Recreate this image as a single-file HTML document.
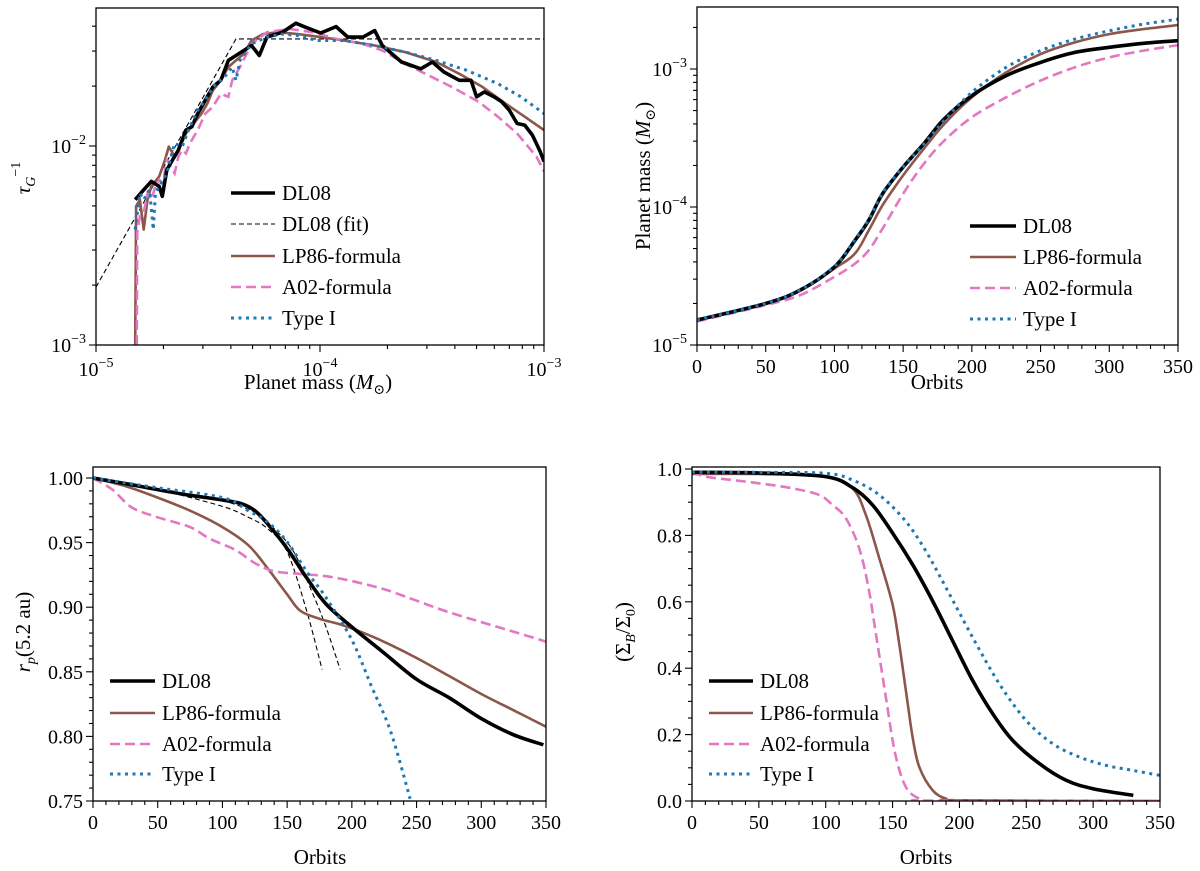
<!DOCTYPE html>
<html><head><meta charset="utf-8">
<style>
body{margin:0;background:#fff;}
svg{display:block;}
text{font-family:"Liberation Serif","DejaVu Serif",serif;}
</style></head>
<body>
<svg id="fig" width="1200" height="871" viewBox="0 0 1200 871" font-family="Liberation Serif, serif"></svg>
<script>
// ---------- Panel 1 data (log10 values) ----------
const p1DlLogM=[-4.825,-4.787,-4.753,-4.718,-4.704,-4.684,-4.658,-4.632,-4.598,-4.572,-4.546,-4.512,-4.478,-4.443,-4.409,-4.375,-4.340,-4.306,-4.271,-4.237,-4.168,-4.108,-4.065,-3.997,-3.928,-3.876,-3.808,-3.756,-3.722,-3.636,-3.550,-3.498,-3.447,-3.378,-3.326,-3.301,-3.266,-3.223,-3.189,-3.155,-3.120,-3.086,-3.052,-3.017,-3.000];
const p1DlLogT=[-2.270,-2.220,-2.178,-2.203,-2.253,-2.120,-2.070,-2.020,-1.920,-1.903,-1.837,-1.770,-1.703,-1.670,-1.570,-1.545,-1.520,-1.495,-1.545,-1.453,-1.428,-1.383,-1.403,-1.432,-1.400,-1.453,-1.453,-1.420,-1.495,-1.578,-1.612,-1.578,-1.628,-1.670,-1.670,-1.753,-1.728,-1.753,-1.778,-1.820,-1.887,-1.895,-1.945,-2.028,-2.078];
const p1FitLogM=[-5.0,-4.375,-3.0];
const p1FitLogT=[-2.709,-1.462,-1.462];
const p1LpLogM=[-4.825,-4.821,-4.804,-4.787,-4.770,-4.753,-4.718,-4.692,-4.675,-4.649,-4.632,-4.598,-4.564,-4.529,-4.503,-4.478,-4.443,-4.409,-4.375,-4.340,-4.306,-4.254,-4.186,-4.100,-3.997,-3.893,-3.756,-3.619,-3.481,-3.378,-3.275,-3.172,-3.086,-3.000];
const p1LpLogT=[-3.000,-2.303,-2.270,-2.420,-2.270,-2.203,-2.153,-2.070,-2.003,-2.053,-2.020,-1.937,-1.887,-1.837,-1.787,-1.720,-1.670,-1.603,-1.570,-1.537,-1.470,-1.437,-1.428,-1.437,-1.453,-1.470,-1.495,-1.528,-1.578,-1.637,-1.703,-1.787,-1.853,-1.920];
const p1AoLogM=[-4.818,-4.816,-4.804,-4.787,-4.770,-4.753,-4.735,-4.718,-4.701,-4.684,-4.667,-4.649,-4.632,-4.615,-4.598,-4.581,-4.546,-4.512,-4.478,-4.443,-4.409,-4.392,-4.357,-4.306,-4.237,-4.134,-4.031,-3.928,-3.808,-3.722,-3.619,-3.515,-3.412,-3.292,-3.206,-3.120,-3.034,-3.000];
const p1AoLogT=[-3.000,-2.437,-2.353,-2.337,-2.237,-2.270,-2.203,-2.170,-2.187,-2.070,-2.103,-2.137,-2.053,-2.020,-2.037,-1.987,-1.920,-1.837,-1.803,-1.737,-1.753,-1.670,-1.603,-1.487,-1.428,-1.412,-1.428,-1.462,-1.487,-1.520,-1.587,-1.645,-1.703,-1.778,-1.853,-1.937,-2.053,-2.128];
const p1T1LogM=[-4.825,-4.804,-4.787,-4.761,-4.744,-4.735,-4.718,-4.684,-4.649,-4.615,-4.581,-4.546,-4.512,-4.478,-4.426,-4.392,-4.375,-4.357,-4.306,-4.237,-4.168,-4.100,-4.014,-3.893,-3.756,-3.619,-3.481,-3.344,-3.206,-3.103,-3.000];
const p1T1LogT=[-2.420,-2.237,-2.270,-2.220,-2.420,-2.237,-2.203,-2.137,-1.987,-2.003,-1.903,-1.820,-1.770,-1.703,-1.653,-1.603,-1.670,-1.570,-1.487,-1.453,-1.437,-1.445,-1.470,-1.470,-1.495,-1.528,-1.570,-1.620,-1.687,-1.753,-1.837];

// ---------- Panel 2 data ----------
const p2Orbits=[0,50,75,100,115,125,135,150,165,180,200,225,250,275,300,325,350];
const p2DlLogM=[-4.819,-4.699,-4.602,-4.434,-4.241,-4.096,-3.904,-3.711,-3.542,-3.361,-3.193,-3.048,-2.952,-2.880,-2.843,-2.814,-2.795];
const p2LpLogM=[-4.819,-4.699,-4.607,-4.446,-4.337,-4.169,-3.988,-3.771,-3.578,-3.398,-3.205,-3.024,-2.892,-2.807,-2.747,-2.711,-2.682];
const p2AoLogM=[-4.829,-4.711,-4.639,-4.506,-4.410,-4.313,-4.157,-3.904,-3.687,-3.518,-3.349,-3.205,-3.084,-2.988,-2.916,-2.867,-2.827];
const p2T1LogM=[-4.819,-4.699,-4.602,-4.430,-4.235,-4.090,-3.900,-3.710,-3.545,-3.370,-3.169,-2.988,-2.867,-2.783,-2.723,-2.675,-2.639];

// ---------- Panel 3 data ----------
const p3DlT=[0,25,50,75,100,115,125,135,150,165,180,200,225,250,275,300,325,348];
const p3DlR=[1.000,0.9957,0.991,0.9866,0.983,0.980,0.9747,0.9645,0.9455,0.9228,0.9025,0.8847,0.8645,0.8442,0.830,0.8138,0.8012,0.7935];
const p3LpT=[0,25,50,75,100,120,135,150,160,175,190,210,230,250,275,300,325,350];
const p3LpR=[1.0,0.9937,0.9848,0.9747,0.962,0.948,0.930,0.910,0.8974,0.891,0.887,0.8797,0.8708,0.8607,0.8468,0.8328,0.8202,0.8075];
const p3AoT=[0,15,30,50,75,90,110,125,140,160,180,200,225,250,275,300,325,350];
const p3AoR=[1.0,0.991,0.9772,0.9696,0.962,0.9531,0.9443,0.9341,0.9278,0.9258,0.924,0.9202,0.9139,0.905,0.8961,0.8885,0.881,0.8734];
const p3T1T=[0,50,100,120,135,150,165,180,200,215,230,245];
const p3T1R=[1.0,0.9924,0.9848,0.9747,0.9658,0.9506,0.9278,0.9075,0.8746,0.8391,0.8037,0.7517];
const p3FitAT=[0,50,100,120,135,150,165,177];
const p3FitAR=[1.0,0.991,0.978,0.9696,0.9607,0.943,0.8974,0.8518];
const p3FitBT=[100,125,140,155,170,180,191];
const p3FitBR=[0.983,0.9734,0.9607,0.943,0.910,0.8847,0.8518];

// ---------- Panel 4 data ----------
const p4DlT=[0,50,100,120,135,150,165,180,195,210,225,240,260,280,300,330];
const p4DlS=[0.99,0.988,0.977,0.944,0.892,0.807,0.712,0.602,0.482,0.362,0.262,0.182,0.112,0.062,0.037,0.017];
const p4LpT=[0,50,100,120,130,140,150,155,160,165,170,180,190,200,350];
const p4LpS=[0.985,0.985,0.977,0.942,0.862,0.732,0.592,0.472,0.332,0.192,0.102,0.032,0.007,0.002,0.0];
const p4AoT=[0,10,30,50,75,95,105,115,125,132,138,145,152,160,170,180,350];
const p4AoS=[0.992,0.977,0.967,0.957,0.942,0.922,0.892,0.852,0.762,0.642,0.492,0.312,0.142,0.042,0.007,0.001,0.0];
const p4T1T=[0,50,100,120,140,160,175,190,210,230,250,270,290,310,330,350];
const p4T1S=[0.99,0.99,0.987,0.967,0.922,0.842,0.752,0.642,0.492,0.352,0.242,0.172,0.132,0.107,0.092,0.077];

const NS='http://www.w3.org/2000/svg';
const svg=document.getElementById('fig');
const FONT='"Liberation Serif", "DejaVu Serif", serif';
function mk(tag,attrs,parent){const e=document.createElementNS(NS,tag);for(const k in attrs)e.setAttribute(k,attrs[k]);(parent||svg).appendChild(e);return e;}

const STY={
 dl:{stroke:'#000','stroke-width':3.6,fill:'none','stroke-linejoin':'round'},
 fit:{stroke:'#000','stroke-width':1.1,fill:'none','stroke-dasharray':'5,3'},
 lp:{stroke:'#8c564b','stroke-width':2.6,fill:'none','stroke-linejoin':'round'},
 ao:{stroke:'#e377c2','stroke-width':2.6,fill:'none','stroke-dasharray':'10,5'},
 t1:{stroke:'#1f77b4','stroke-width':3,fill:'none','stroke-dasharray':'3,4.5'}
};

function pathD(pts,smooth){
  if(!smooth)return pts.map((p,i)=>(i?'L':'M')+p[0].toFixed(1)+','+p[1].toFixed(1)).join(' ');
  let d='M'+pts[0][0].toFixed(1)+','+pts[0][1].toFixed(1);
  for(let i=0;i<pts.length-1;i++){
    const p0=pts[Math.max(i-1,0)],p1=pts[i],p2=pts[i+1],p3=pts[Math.min(i+2,pts.length-1)];
    const c1=[p1[0]+(p2[0]-p0[0])/6,p1[1]+(p2[1]-p0[1])/6];
    const c2=[p2[0]-(p3[0]-p1[0])/6,p2[1]-(p3[1]-p1[1])/6];
    d+=' C'+c1[0].toFixed(1)+','+c1[1].toFixed(1)+' '+c2[0].toFixed(1)+','+c2[1].toFixed(1)+' '+p2[0].toFixed(1)+','+p2[1].toFixed(1);
  }
  return d;
}
function line(g,xs,ys,sx,sy,style,name,clip,smooth){
  const pts=xs.map((v,i)=>[sx(v),sy(ys[i])]);
  const p=mk('path',Object.assign({d:pathD(pts,smooth),'clip-path':'url(#'+clip+')'},style),g);
  
  
}

function frame(id,L,R,T,B){
  const cp=mk('clipPath',{id:id});mk('rect',{x:L,y:T,width:R-L,height:B-T},cp);
  const g=mk('g',{});
  
  
  return g;
}
function spine(g,L,R,T,B){
  const r=mk('rect',{x:L,y:T,width:R-L,height:B-T,fill:'none',stroke:'#000','stroke-width':1.3},g);
  
  
}
function tick(g,x1,y1,x2,y2){mk('line',{x1:x1,y1:y1,x2:x2,y2:y2,stroke:'#000','stroke-width':1.1},g);}
function text(g,x,y,s,anchor,size,name,rot){
  const t=mk('text',{x:x,y:y,'text-anchor':anchor||'middle','font-size':size||20,fill:'#000','font-family':FONT},g);
  if(rot)t.setAttribute('transform','rotate(-90 '+x+' '+y+')');
  t.innerHTML=s;
  
  
  return t;
}
function pow(e){return '10<tspan dy="-9" font-size="14">−'+e+'</tspan>';}
function legend(g,x0,x1,ys,keys,labels){
  const lg=mk('g',{},g);
  
  
  keys.forEach((k,i)=>{
    const ln=mk('line',Object.assign({x1:x0,x2:x1,y1:ys[i],y2:ys[i]},STY[k]),lg);
    
    
    text(lg,x1+7,ys[i]+7,labels[i],'start',21,'legend-entry-'+k);
  });
}
const LAB={dl:'DL08',fit:'DL08 (fit)',lp:'LP86-formula',ao:'A02-formula',t1:'Type I'};
const MSUN='(<tspan font-style="italic">M</tspan><tspan font-size="14" dy="5">⊙</tspan><tspan dy="-5">)</tspan>';

// ===== Panel 1 =====
(function(){
  const L=96,R=544,T=8,B=345;
  const g=frame('clip1',L,R,T,B);
  const sx=u=>L+(u+5)*(R-L)/2;
  const sy=v=>146-(v+2)*199;
  line(g,p1FitLogM,p1FitLogT,sx,sy,STY.fit,'series-dl08-fit','clip1');
  line(g,p1LpLogM,p1LpLogT,sx,sy,STY.lp,'series-lp86','clip1');
  line(g,p1AoLogM,p1AoLogT,sx,sy,STY.ao,'series-a02','clip1');
  line(g,p1DlLogM,p1DlLogT,sx,sy,STY.dl,'series-dl08','clip1');
  line(g,p1T1LogM,p1T1LogT,sx,sy,STY.t1,'series-type-i','clip1');
  spine(g,L,R,T,B);
  for(let d=-5;d<=-3;d++){
    tick(g,sx(d),B,sx(d),B+7);
    text(g,sx(d),B+31,pow(-d),'middle',20,'x-tick-label');
    if(d<-3)for(let k=2;k<10;k++){const x=sx(d+Math.log10(k));tick(g,x,B,x,B+4);}
  }
  for(let d=-3;d<=-2;d++){
    tick(g,L,sy(d),L-7,sy(d));
    text(g,L-10,sy(d)+7,pow(-d),'end',20,'y-tick-label');
    for(let k=2;k<10;k++){const y=sy(d+Math.log10(k));if(y>=T)tick(g,L,y,L-4,y);}
  }
  text(g,318,389,'Planet mass '+MSUN,'middle',21,'x-axis-title');
  text(g,30,178,'<tspan font-style="italic">τ</tspan><tspan font-size="14" font-style="italic" dy="5">G</tspan><tspan font-size="14" dy="-15">−1</tspan>','middle',21,'y-axis-title',true);
  legend(g,231,275,[193,224,256,287,318],['dl','fit','lp','ao','t1'],['dl','fit','lp','ao','t1'].map(k=>LAB[k]));
})();

// ===== Panel 2 =====
(function(){
  const L=697,R=1178,T=7,B=345;
  const g=frame('clip2',L,R,T,B);
  const sx=t=>L+t*(R-L)/350;
  const sy=v=>B-(v+5)*138;
  line(g,p2Orbits,p2LpLogM,sx,sy,STY.lp,'series-lp86','clip2',true);
  line(g,p2Orbits,p2AoLogM,sx,sy,STY.ao,'series-a02','clip2',true);
  line(g,p2Orbits,p2DlLogM,sx,sy,STY.dl,'series-dl08','clip2',true);
  line(g,p2Orbits,p2T1LogM,sx,sy,STY.t1,'series-type-i','clip2',true);
  spine(g,L,R,T,B);
  for(let t=0;t<=350;t+=10){const maj=t%50===0;tick(g,sx(t),B,sx(t),B+(maj?7:4));if(maj)text(g,sx(t),B+28,String(t),'middle',20,'x-tick-label');}
  for(let d=-5;d<=-3;d++){
    tick(g,L,sy(d),L-7,sy(d));
    text(g,L-10,sy(d)+7,pow(-d),'end',20,'y-tick-label');
    for(let k=2;k<10;k++){const y=sy(d+Math.log10(k));if(y>=T)tick(g,L,y,L-4,y);}
  }
  text(g,937,389,'Orbits','middle',21,'x-axis-title');
  text(g,650,176,'Planet mass '+MSUN,'middle',21,'y-axis-title',true);
  legend(g,970,1016,[226,257,288,319],['dl','lp','ao','t1'],['dl','lp','ao','t1'].map(k=>LAB[k]));
})();

// ===== Panel 3 =====
(function(){
  const L=93,R=546,T=467,B=801;
  const g=frame('clip3',L,R,T,B);
  const sx=t=>L+t*(R-L)/350;
  const sy=v=>B-(v-0.75)*(B-478)/0.25;
  line(g,p3FitAT,p3FitAR,sx,sy,STY.fit,'series-dl08-fit-a','clip3',true);
  line(g,p3FitBT,p3FitBR,sx,sy,STY.fit,'series-dl08-fit-b','clip3',true);
  line(g,p3LpT,p3LpR,sx,sy,STY.lp,'series-lp86','clip3',true);
  line(g,p3AoT,p3AoR,sx,sy,STY.ao,'series-a02','clip3',true);
  line(g,p3DlT,p3DlR,sx,sy,STY.dl,'series-dl08','clip3',true);
  line(g,p3T1T,p3T1R,sx,sy,STY.t1,'series-type-i','clip3',true);
  spine(g,L,R,T,B);
  for(let t=0;t<=350;t+=10){const maj=t%50===0;tick(g,sx(t),B,sx(t),B+(maj?7:4));if(maj)text(g,sx(t),B+28,String(t),'middle',20,'x-tick-label');}
  for(let i=75;i<=100;i++){const v=i/100,maj=i%5===0;tick(g,L,sy(v),L-(maj?7:4),sy(v));if(maj)text(g,L-10,sy(v)+7,v.toFixed(2),'end',20,'y-tick-label');}
  text(g,320,864,'Orbits','middle',21,'x-axis-title');
  text(g,30,632,'<tspan font-style="italic">r</tspan><tspan font-size="14" font-style="italic" dy="5">p</tspan><tspan dy="-5">(5.2 au)</tspan>','middle',21,'y-axis-title',true);
  legend(g,110,155,[681,713,744,774],['dl','lp','ao','t1'],['dl','lp','ao','t1'].map(k=>LAB[k]));
})();

// ===== Panel 4 =====
(function(){
  const L=692,R=1160,T=467,B=801;
  const g=frame('clip4',L,R,T,B);
  const sx=t=>L+t*(R-L)/350;
  const sy=v=>B-v*(B-469);
  line(g,p4LpT,p4LpS,sx,sy,STY.lp,'series-lp86','clip4',true);
  line(g,p4AoT,p4AoS,sx,sy,STY.ao,'series-a02','clip4',true);
  line(g,p4DlT,p4DlS,sx,sy,STY.dl,'series-dl08','clip4',true);
  line(g,p4T1T,p4T1S,sx,sy,STY.t1,'series-type-i','clip4',true);
  spine(g,L,R,T,B);
  for(let t=0;t<=350;t+=10){const maj=t%50===0;tick(g,sx(t),B,sx(t),B+(maj?7:4));if(maj)text(g,sx(t),B+28,String(t),'middle',20,'x-tick-label');}
  for(let i=0;i<=20;i++){const v=i/20,maj=i%4===0;tick(g,L,sy(v),L-(maj?7:4),sy(v));if(maj)text(g,L-10,sy(v)+7,v.toFixed(1),'end',20,'y-tick-label');}
  text(g,926,864,'Orbits','middle',21,'x-axis-title');
  text(g,630,632,'(Σ<tspan font-size="14" font-style="italic" dy="5">B</tspan><tspan dy="-5">/Σ</tspan><tspan font-size="14" dy="5">0</tspan><tspan dy="-5">)</tspan>','middle',21,'y-axis-title',true);
  legend(g,709,753,[681,713,744,774],['dl','lp','ao','t1'],['dl','lp','ao','t1'].map(k=>LAB[k]));
})();
</script>
</body></html>
